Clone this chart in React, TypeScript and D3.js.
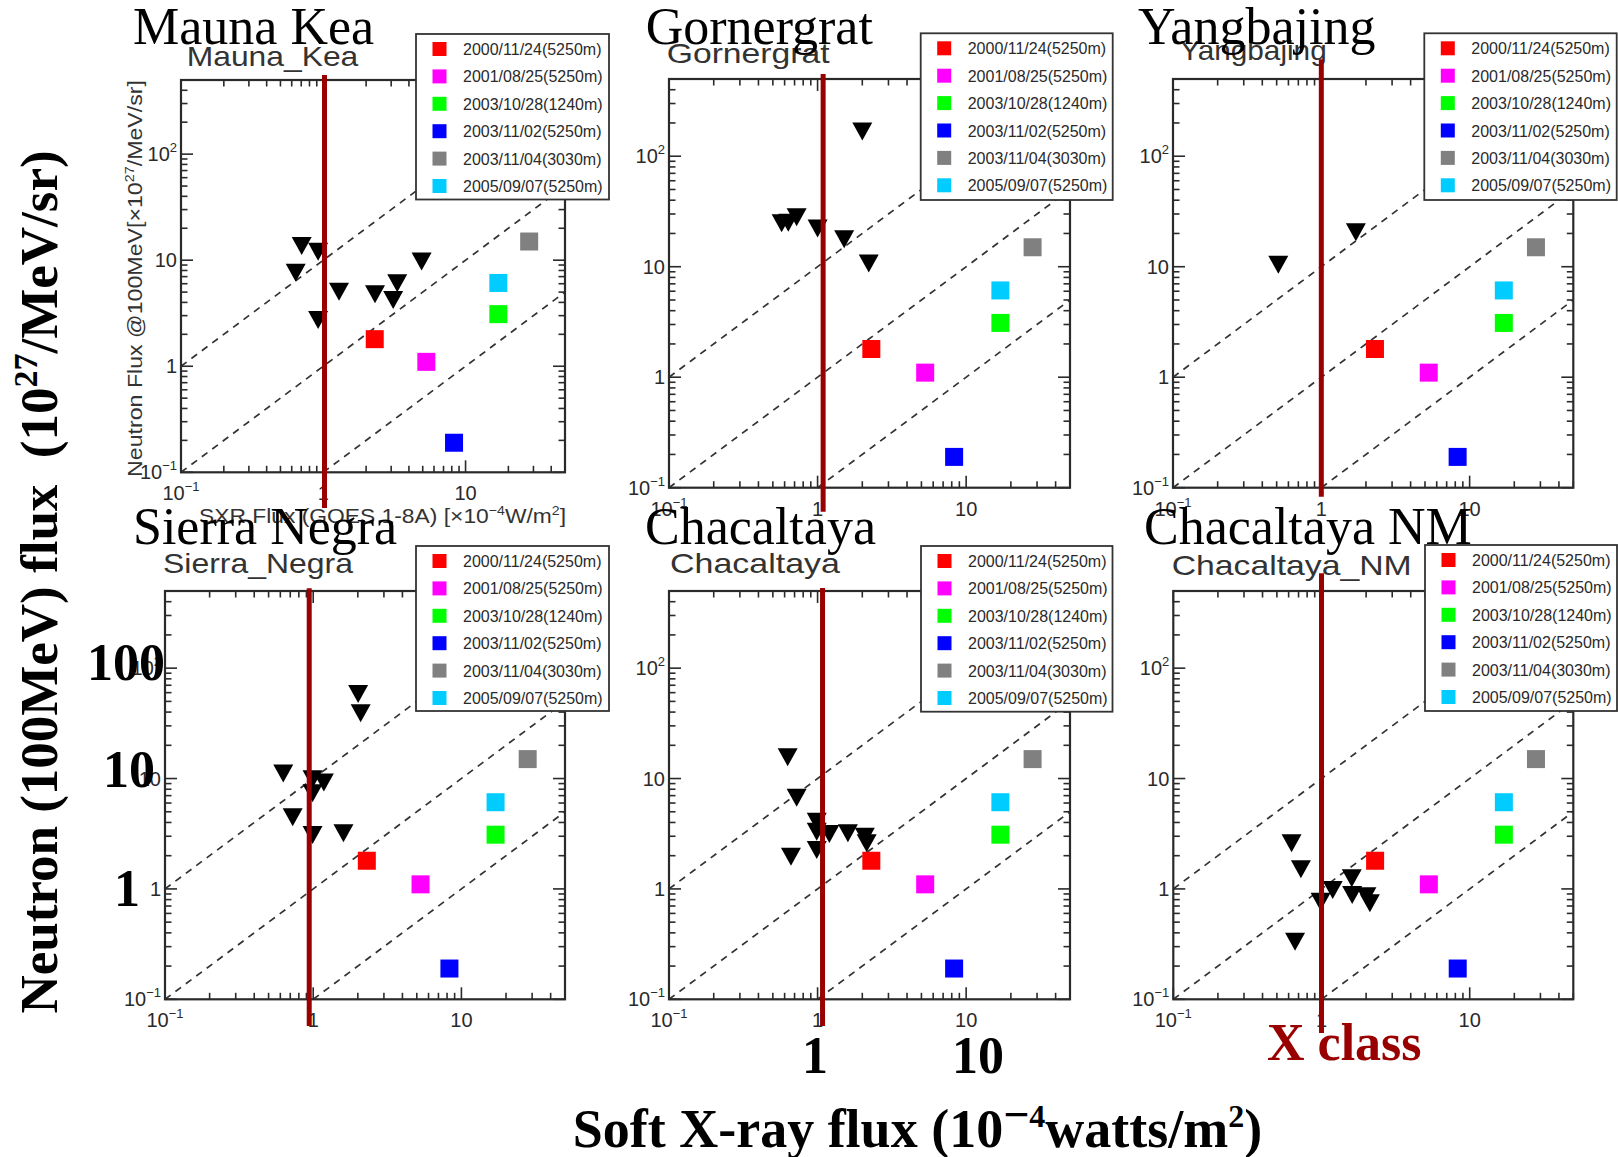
import React from 'react';
import * as d3 from 'd3';

// ---------------- data ----------------
const stationTitles = ['Mauna Kea', 'Gornergrat', 'Yangbajing', 'Sierra Negra', 'Chacaltaya', 'Chacaltaya NM'];
const rootTitles = ['Mauna_Kea', 'Gornergrat', 'Yangbajing', 'Sierra_Negra', 'Chacaltaya', 'Chacaltaya_NM'];

const eventLabels = ['2000/11/24(5250m)', '2001/08/25(5250m)', '2003/10/28(1240m)', '2003/11/02(5250m)', '2003/11/04(3030m)', '2005/09/07(5250m)'];
const eventColors = ['#ff0000', '#ff00ff', '#00ff00', '#0000ff', '#808080', '#00ccff'];
const eventSxr = [2.3, 5.3, 17, 8.3, 28, 17];
const eventNeutron = [1.8, 1.1, 3.1, 0.19, 15, 6.1];

const maunaKeaSxr = [0.705, 0.92, 0.64, 0.92, 1.29, 2.31, 3.1, 3.31, 4.91];
const maunaKeaLimit = [13.6, 12.0, 7.6, 2.73, 5.05, 4.77, 4.22, 6.05, 9.7];
const gornergratSxr = [2.0, 0.573, 0.635, 0.723, 1.0, 1.51, 2.21];
const gornergratLimit = [167, 24.7, 25, 28, 22.2, 17.7, 10.7];
const yangbajingSxr = [0.513, 1.71];
const yangbajingLimit = [10.4, 20.5];
const sierraNegraSxr = [2.01, 2.09, 0.628, 0.99, 1.18, 0.99, 0.727, 0.99, 1.6];
const sierraNegraLimit = [58.2, 39, 11.1, 9.85, 9.2, 7.35, 4.46, 3.08, 3.19];
const chacaltayaSxr = [0.629, 0.723, 0.662, 0.987, 0.987, 0.987, 1.2, 1.6, 2.08, 2.14];
const chacaltayaLimit = [15.6, 6.7, 1.96, 4.06, 3.3, 2.25, 3.14, 3.19, 2.97, 2.59];
const chacaltayaNMSxr = [0.628, 0.726, 0.663, 0.986, 1.19, 1.6, 1.61, 2.01, 2.12];
const chacaltayaNMLimit = [2.59, 1.51, 0.333, 0.766, 0.98, 1.25, 0.88, 0.86, 0.74];

const limitSxr = [maunaKeaSxr, gornergratSxr, yangbajingSxr, sierraNegraSxr, chacaltayaSxr, chacaltayaNMSxr];
const limitNeutron = [maunaKeaLimit, gornergratLimit, yangbajingLimit, sierraNegraLimit, chacaltayaLimit, chacaltayaNMLimit];

// X-class marker line (drawn over each panel) in SXR units
const xClassAt = [1.02, 1.09, 1.0, 0.94, 1.08, 1.0];

// reference lines: neutron = ratio * sxr
const refRatios = [10, 1, 0.1];

const xDomain = [0.1, 50];
const yDomain = [0.1, 500];
const xTickLabels = [
  { v: 0.1, base: '10', sup: '\u22121' },
  { v: 1, base: '1', sup: '' },
  { v: 10, base: '10', sup: '' },
];
const yTickLabels = [
  { v: 0.1, base: '10', sup: '\u22121' },
  { v: 1, base: '1', sup: '' },
  { v: 10, base: '10', sup: '' },
  { v: 100, base: '10', sup: '2' },
];

// ---------------- layout ----------------
const panelBoxes = [
  { l: 181, r: 565, t: 80, b: 472.3 },
  { l: 669, r: 1070, t: 79, b: 487.7 },
  { l: 1173, r: 1573.3, t: 79, b: 487.7 },
  { l: 165, r: 565, t: 591, b: 999.3 },
  { l: 669, r: 1070, t: 591, b: 999.3 },
  { l: 1173.3, r: 1573.3, t: 591, b: 999.3 },
];
const legendBoxes = [
  { x: 416, y: 34, w: 193, h: 165.5 },
  { x: 920.7, y: 33.3, w: 192, h: 166.7 },
  { x: 1424.3, y: 33.3, w: 192.4, h: 166.7 },
  { x: 416, y: 546, w: 193, h: 165 },
  { x: 921, y: 546, w: 191.5, h: 165.7 },
  { x: 1425, y: 545, w: 192, h: 166 },
];
const redSpans = [[75, 508], [74, 511.7], [59.3, 496.7], [588.3, 1026], [588, 1026], [573.3, 1033]];
const rootTitlePos = [
  { x: 186.7, y: 65.7, w: 171.6 },
  { x: 666.7, y: 63.3, w: 163 },
  { x: 1180, y: 60, w: 146.7 },
  { x: 163, y: 573.3, w: 190 },
  { x: 670, y: 573.3, w: 170 },
  { x: 1171.7, y: 575, w: 240 },
];
const bigTitlePos = [
  { x: 133, y: 44 },
  { x: 645.7, y: 44 },
  { x: 1138, y: 44 },
  { x: 133, y: 544 },
  { x: 645, y: 544 },
  { x: 1144, y: 544 },
];

const SANS = "'Liberation Sans', Arial, Helvetica, sans-serif";
const SERIF = "'Liberation Serif', 'Times New Roman', Times, serif";
const ROOT_INK = '#2a2a2a';
const DARK_RED = '#990000';

function logTicks(min: number, max: number) {
  const out: { v: number; major: boolean }[] = [];
  for (let e = -2; e <= 3; e++) {
    for (let k = 1; k <= 9; k++) {
      const v = k * Math.pow(10, e);
      if (v >= min * 0.999 && v <= max * 1.001) out.push({ v, major: k === 1 });
    }
  }
  return out;
}

function Panel({ i }: { i: number }) {
  const box = panelBoxes[i];
  const x = d3.scaleLog().domain(xDomain).range([box.l, box.r]);
  const y = d3.scaleLog().domain(yDomain).range([box.b, box.t]);
  const tx = logTicks(xDomain[0], xDomain[1]);
  const ty = logTicks(yDomain[0], yDomain[1]);
  const line = d3
    .line<[number, number]>()
    .x((d) => x(d[0]))
    .y((d) => y(d[1]));
  const refs = refRatios.map((r) => {
    const x0 = Math.max(xDomain[0], yDomain[0] / r);
    const x1 = Math.min(xDomain[1], yDomain[1] / r);
    return line([
      [x0, r * x0],
      [x1, r * x1],
    ]) as string;
  });
  const majT = 12;
  const minT = 6.5;
  const sq = 18;
  const triW = 20;
  const triH = 18;
  const lg = legendBoxes[i];
  const tp = rootTitlePos[i];
  return (
    <g>
      {refs.map((d, k) => (
        <path key={k} d={d} fill="none" stroke="#333" strokeWidth={1.7} strokeDasharray="7,6" />
      ))}
      {tx.map((t, k) => {
        const px = x(t.v);
        const L = t.major ? majT : minT;
        return (
          <g key={'tx' + k} stroke={ROOT_INK} strokeWidth={1.6}>
            <line x1={px} x2={px} y1={box.b} y2={box.b - L} />
            <line x1={px} x2={px} y1={box.t} y2={box.t + L} />
          </g>
        );
      })}
      {ty.map((t, k) => {
        const py = y(t.v);
        const L = t.major ? majT : minT;
        return (
          <g key={'ty' + k} stroke={ROOT_INK} strokeWidth={1.6}>
            <line x1={box.l} x2={box.l + L} y1={py} y2={py} />
            <line x1={box.r} x2={box.r - L} y1={py} y2={py} />
          </g>
        );
      })}
      <rect x={box.l} y={box.t} width={box.r - box.l} height={box.b - box.t} fill="none" stroke={ROOT_INK} strokeWidth={2.2} />
      {xTickLabels.map((t, k) => (
        <text key={'xl' + k} x={x(t.v)} y={box.b + 28} textAnchor="middle" fontFamily={SANS} fontSize={20} fill={ROOT_INK}>
          {t.base}
          {t.sup && (
            <tspan dy={-9} fontSize={13}>
              {t.sup}
            </tspan>
          )}
        </text>
      ))}
      {yTickLabels.map((t, k) => (
        <text key={'yl' + k} x={box.l - 4} y={y(t.v) + 7} textAnchor="end" fontFamily={SANS} fontSize={20} fill={ROOT_INK}>
          {t.base}
          {t.sup && (
            <tspan dy={-9} fontSize={13}>
              {t.sup}
            </tspan>
          )}
        </text>
      ))}
      {eventSxr.map((v, k) => (
        <rect key={'ev' + k} x={x(v) - sq / 2} y={y(eventNeutron[k]) - sq / 2} width={sq} height={sq} fill={eventColors[k]} />
      ))}
      {limitSxr[i].map((v, k) => {
        const cx = x(v);
        const cy = y(limitNeutron[i][k]);
        return (
          <path
            key={'tr' + k}
            d={`M${cx - triW / 2},${cy - triH / 2}L${cx + triW / 2},${cy - triH / 2}L${cx},${cy + triH / 2}Z`}
            fill="#000"
          />
        );
      })}
      <rect x={lg.x} y={lg.y} width={lg.w} height={lg.h} fill="#fff" stroke="#333" strokeWidth={1.8} />
      {eventLabels.map((lab, k) => {
        const cy = lg.y + 15 + k * 27.4;
        return (
          <g key={'lg' + k}>
            <rect x={lg.x + 23.5 - 7} y={cy - 7} width={14} height={14} fill={eventColors[k]} />
            <text x={lg.x + 47} y={cy + 6} fontFamily={SANS} fontSize={16} fill={ROOT_INK}>
              {lab}
            </text>
          </g>
        );
      })}
      <text x={tp.x} y={tp.y} fontFamily={SANS} fontSize={28} fill="#333" textLength={tp.w} lengthAdjust="spacingAndGlyphs">
        {rootTitles[i]}
      </text>
    </g>
  );
}

export default function App() {
  return (
    <svg
      width={1618}
      height={1157}
      viewBox="0 0 1618 1157"
      style={{ position: 'absolute', left: 0, top: 0, background: '#fff' }}
    >
      <rect x={0} y={0} width={1618} height={1157} fill="#fff" />
      {panelBoxes.map((_, i) => (
        <Panel key={i} i={i} />
      ))}
      <text x={199} y={523} fontFamily={SANS} fontSize={21} fill="#333" textLength={367} lengthAdjust="spacingAndGlyphs">
        SXR Flux (GOES 1-8A) [{'\u00d7'}10<tspan dy={-8} fontSize={13}>{'\u2212'}4</tspan>
        <tspan dy={8}>W/m</tspan>
        <tspan dy={-8} fontSize={13}>2</tspan>
        <tspan dy={8}>]</tspan>
      </text>
      <text
        transform="translate(142,477) rotate(-90)"
        fontFamily={SANS}
        fontSize={21}
        fill="#333"
        textLength={397}
        lengthAdjust="spacingAndGlyphs"
      >
        Neutron Flux @100MeV[{'\u00d7'}10<tspan dy={-8} fontSize={13}>27</tspan>
        <tspan dy={8}>/MeV/sr]</tspan>
      </text>

      {panelBoxes.map((box, i) => {
        const x = d3.scaleLog().domain(xDomain).range([box.l, box.r]);
        const px = x(xClassAt[i]);
        return <line key={'red' + i} x1={px} x2={px} y1={redSpans[i][0]} y2={redSpans[i][1]} stroke={DARK_RED} strokeWidth={5} />;
      })}

      {stationTitles.map((s, i) => (
        <text key={'bt' + i} x={bigTitlePos[i].x} y={bigTitlePos[i].y} fontFamily={SERIF} fontSize={52} fill="#000">
          {s}
        </text>
      ))}

      <g fontFamily={SERIF} fontWeight="bold" fontSize={52} fill="#000">
        <text x={165} y={680} textAnchor="end">100</text>
        <text x={155} y={787} textAnchor="end">10</text>
        <text x={140} y={906} textAnchor="end">1</text>
        <text x={815} y={1073} textAnchor="middle">1</text>
        <text x={978} y={1073} textAnchor="middle">10</text>
      </g>
      <text x={1267} y={1060} fontFamily={SERIF} fontWeight="bold" fontSize={52} fill={DARK_RED}>
        X class
      </text>

      <text x={917.5} y={1147} textAnchor="middle" fontFamily={SERIF} fontWeight="bold" fontSize={54} fill="#000">
        Soft X-ray flux (10<tspan dy={-17} fontSize={46}>{'\u2212'}</tspan>
        <tspan dy={-3} fontSize={32}>4</tspan>
        <tspan dy={20}>watts/m</tspan>
        <tspan dy={-20} fontSize={32}>2</tspan>
        <tspan dy={20}>)</tspan>
      </text>
      <text
        transform="translate(57,582) rotate(-90)"
        textAnchor="middle"
        fontFamily={SERIF}
        fontWeight="bold"
        fontSize={53}
        fill="#000"
        style={{ whiteSpace: 'pre' }}
      >
        {'Neutron (100MeV) flux  (10'}
        <tspan dy={-20} fontSize={34}>27</tspan>
        <tspan dy={20}>/MeV/sr)</tspan>
      </text>
    </svg>
  );
}
